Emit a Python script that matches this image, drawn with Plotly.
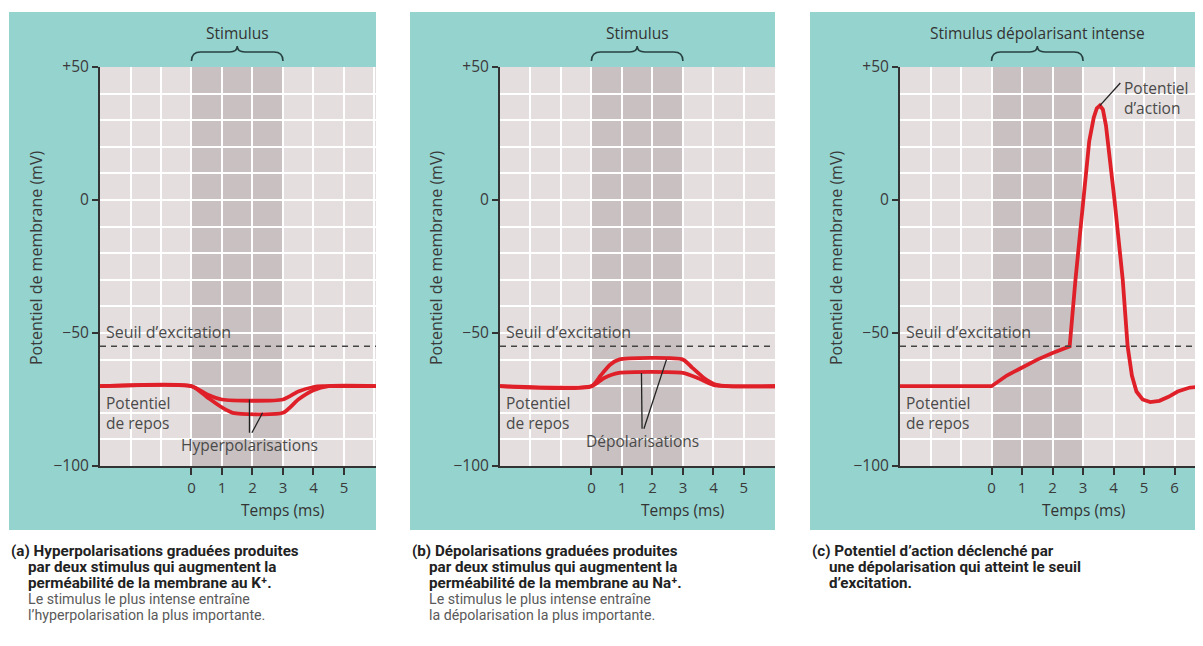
import plotly.graph_objects as go

# The page body has an 8 px margin; the figure is shifted by it.
OFF = 8
W, H = 1203 - OFF, 646 - OFF

# ---------------- data ----------------
# Panel (a): two graded hyperpolarisations
A_WEAK_T = [-3, 0, 0.5, 1.0, 3.0, 3.5, 4.0, 4.3, 6.2]
A_WEAK_V = [-70, -70, -73, -75, -75, -72, -70.3, -70, -70]
A_STRONG_T = [-3, 0, 0.5, 1.0, 1.35, 3.0, 3.5, 4.0, 4.5, 6.2]
A_STRONG_V = [-70, -70, -74, -78, -80, -80, -75, -71.5, -70, -70]

# Panel (b): two graded depolarisations
B_WEAK_T = [-3, 0, 0.4, 0.9, 3.0, 3.5, 4.0, 4.4, 6.2]
B_WEAK_V = [-70, -70, -67, -65, -65, -67, -69.5, -70, -70]
B_STRONG_T = [-3, 0, 0.3, 0.6, 0.9, 3.0, 3.3, 3.7, 4.1, 4.5, 6.2]
B_STRONG_V = [-70, -70, -66, -62, -60, -60, -63, -67, -69.5, -70, -70]

# Panel (c): action potential
C_T = [-3, 0, 0.5, 1.0, 1.5, 2.0, 2.56, 2.75, 3.0, 3.2, 3.35, 3.45, 3.55, 3.65,
       3.75, 3.9, 4.03, 4.3, 4.46, 4.6, 4.75, 4.95, 5.2, 5.5, 5.8, 6.1, 6.5, 7.0]
C_V = [-70, -70, -66, -63, -60, -57.5, -55, -30, 0, 22, 31, 34.5, 35.5, 34,
       28, 14, 0, -30, -55, -66, -72, -75, -76, -75.5, -74, -72, -70.5, -70]

REST = -70
THRESHOLD = -55
STIM_START, STIM_END = 0, 3
Y_TICKS = [-100, -50, 0, 50]
Y_TICKTEXT = ["\u2212100", "\u221250", "0", "+50"]
X_TICKS_AB = [0, 1, 2, 3, 4, 5]
X_TICKS_C = [0, 1, 2, 3, 4, 5, 6]

CAPTIONS = [
    ("(a)", ["Hyperpolarisations graduées produites",
             "par deux stimulus qui augmentent la",
             "perméabilité de la membrane au K\u207a."],
     ["Le stimulus le plus intense entraîne",
      "l’hyperpolarisation la plus importante."]),
    ("(b)", ["Dépolarisations graduées produites",
             "par deux stimulus qui augmentent la",
             "perméabilité de la membrane au Na\u207a."],
     ["Le stimulus le plus intense entraîne",
      "la dépolarisation la plus importante."]),
    ("(c)", ["Potentiel d’action déclenché par",
             "une dépolarisation qui atteint le seuil",
             "d’excitation."],
     []),
]

# ---------------- styles ----------------
RED = "#DF2029"
TEAL = "#95D3CF"
BG = "#E4DEDE"
STIM = "#C9C1C1"
AXIS = "#333333"
TXT = "#4a4a4a"
FONT = "Open Sans"
CAP_FONT = "Liberation Sans Narrow, Arial Narrow, Roboto, sans-serif"


def px(xp):
    return (xp - OFF) / W


def py(yp):
    return 1 - (yp - OFF) / H


panels = [
    dict(ax="", box=(9, 376), plot=(100, 376), xmax=6.05, xticks=X_TICKS_AB,
         header="Stimulus",
         series=[(A_WEAK_T, A_WEAK_V), (A_STRONG_T, A_STRONG_V)], shape="spline",
         label="Hyperpolarisations", label_xy=(1.9, -92),
         pointers=[((1.9, -75), (1.9, -87.5)), ((1.98, -87.5), (2.33, -80))]),
    dict(ax="2", box=(410, 775), plot=(500, 775), xmax=6.02, xticks=X_TICKS_AB,
         header="Stimulus",
         series=[(B_WEAK_T, B_WEAK_V), (B_STRONG_T, B_STRONG_V)], shape="spline",
         label="Dépolarisations", label_xy=(1.67, -90.5),
         pointers=[((1.64, -65), (1.66, -86)), ((1.72, -86), (2.46, -60))]),
    dict(ax="3", box=(810, 1203), plot=(900, 1203), xmax=6.93, xticks=X_TICKS_C,
         header="Stimulus dépolarisant intense",
         series=[(C_T, C_V)], shape="linear",
         label=None,
         pointers=[((3.55, 35.5), (4.22, 44))]),
]

fig = go.Figure()
shapes = []
annotations = []
layout = {}

y_dom = [py(466), py(67)]

for i, p in enumerate(panels):
    xa = "x" + p["ax"]
    ya = "y" + p["ax"]
    xkey = "xaxis" + p["ax"]
    ykey = "yaxis" + p["ax"]

    # teal panel box
    shapes.append(dict(type="rect", xref="paper", yref="paper",
                       x0=px(p["box"][0]), x1=min(1.0, px(p["box"][1])),
                       y0=py(530), y1=py(12), fillcolor=TEAL,
                       line=dict(width=0), layer="below"))
    # plot background and stimulus zone
    shapes.append(dict(type="rect", xref=xa, yref=ya, x0=-3, x1=p["xmax"] + 1,
                       y0=-100, y1=50, fillcolor=BG, line=dict(width=0),
                       layer="below"))
    shapes.append(dict(type="rect", xref=xa, yref=ya, x0=STIM_START, x1=STIM_END,
                       y0=-100, y1=50, fillcolor=STIM, line=dict(width=0),
                       layer="below"))
    # threshold line
    shapes.append(dict(type="line", xref=xa, yref=ya, x0=-3, x1=p["xmax"] + 1,
                       y0=THRESHOLD, y1=THRESHOLD,
                       line=dict(color="#444444", width=1.5, dash="6px,5px"),
                       layer="above"))
    # brace above the stimulus
    x0, x1 = STIM_START, STIM_END
    xm = (x0 + x1) / 2
    yb, ymid, ytip = py(61), py(52), py(46)
    path = (f"M {x0},{yb} Q {x0},{ymid} {x0 + 0.3},{ymid} "
            f"L {xm - 0.25},{ymid} Q {xm},{ymid} {xm},{ytip} "
            f"Q {xm},{ymid} {xm + 0.25},{ymid} L {x1 - 0.3},{ymid} "
            f"Q {x1},{ymid} {x1},{yb}")
    shapes.append(dict(type="path", xref=xa, yref="paper", path=path,
                       line=dict(color="#27403f", width=1.6), layer="above"))
    # pointers
    for (a, b) in p["pointers"]:
        shapes.append(dict(type="line", xref=xa, yref=ya, x0=a[0], y0=a[1],
                           x1=b[0], y1=b[1],
                           line=dict(color="#222222", width=1.3), layer="above"))

    # traces
    for t, v in p["series"]:
        fig.add_trace(go.Scatter(
            x=t, y=v, mode="lines", xaxis=xa, yaxis=ya, showlegend=False,
            hoverinfo="skip",
            line=dict(color=RED, width=3.8, shape=p["shape"], smoothing=0.6)))

    layout[xkey] = dict(
        domain=[px(p["plot"][0]), min(1.0, px(p["plot"][1]))], anchor=ya,
        range=[-3, p["xmax"]] if px(p["plot"][1]) <= 1 else
              [-3, -3 + (p["xmax"] + 3) * (W - (p["plot"][0] - OFF)) /
               (p["plot"][1] - p["plot"][0])],
        tickvals=p["xticks"],
        ticktext=[str(v) for v in p["xticks"]],
        showgrid=True, gridcolor="white", gridwidth=2,
        minor=dict(dtick=1, tick0=0, showgrid=True, gridcolor="white",
                   gridwidth=2, ticks=""),
        ticks="outside", ticklen=7, tickwidth=1.6, tickcolor=AXIS,
        showline=True, linecolor=AXIS, linewidth=2, zeroline=False,
        tickfont=dict(family=FONT, size=15, color="#3a3a3a"),
        fixedrange=True, layer="below traces", automargin=False)
    layout[ykey] = dict(
        domain=y_dom, anchor=xa, range=[-100, 50],
        tickvals=Y_TICKS, ticktext=Y_TICKTEXT,
        showgrid=True, gridcolor="white", gridwidth=2,
        minor=dict(dtick=10, tick0=0, showgrid=True, gridcolor="white",
                   gridwidth=2, ticks=""),
        ticks="outside", ticklen=6, tickwidth=1.6, tickcolor=AXIS,
        showline=True, linecolor=AXIS, linewidth=2, zeroline=False,
        tickfont=dict(family=FONT, size=15.5, color="#3a3a3a"),
        fixedrange=True, layer="below traces", automargin=False)

    # texts
    annotations.append(dict(xref=xa, yref="paper", x=xm, y=py(33),
                            text=p["header"], showarrow=False,
                            xanchor="center", yanchor="middle",
                            font=dict(family=FONT, size=15.5, color="#333333")))
    annotations.append(dict(xref=xa, yref="paper", x=3, y=py(510),
                            text="Temps (ms)", showarrow=False,
                            xanchor="center", yanchor="middle",
                            font=dict(family=FONT, size=15.5, color="#333333")))
    annotations.append(dict(xref="paper", yref="paper",
                            x=px(p["plot"][0] - 64), y=py(258),
                            text="Potentiel de membrane (mV)", textangle=-90,
                            showarrow=False, xanchor="center", yanchor="middle",
                            font=dict(family=FONT, size=16, color="#3a3a3a")))
    annotations.append(dict(xref=xa, yref=ya, x=-2.87, y=-49.5,
                            text="Seuil d’excitation", showarrow=False,
                            xanchor="left", yanchor="middle",
                            font=dict(family=FONT, size=16, color=TXT)))
    annotations.append(dict(xref=xa, yref=ya, x=-2.87, y=-71.5,
                            text="Potentiel<br>de repos", showarrow=False,
                            xanchor="left", yanchor="top", align="left",
                            font=dict(family=FONT, size=15.5, color=TXT)))
    if p["label"]:
        annotations.append(dict(xref=xa, yref=ya, x=p["label_xy"][0],
                                y=p["label_xy"][1], text=p["label"],
                                showarrow=False, xanchor="center",
                                yanchor="middle",
                                font=dict(family=FONT, size=15.5, color=TXT)))
    else:
        annotations.append(dict(xref=xa, yref=ya, x=4.27, y=38.5,
                                text="Potentiel<br>d’action", showarrow=False,
                                xanchor="left", yanchor="middle", align="left",
                                font=dict(family=FONT, size=15.5, color=TXT)))

    # caption, one annotation per line
    tag, bold_lines, plain_lines = CAPTIONS[i]
    x_base = p["box"][0]
    for k, line in enumerate(bold_lines + plain_lines):
        bold = k < len(bold_lines)
        txt = f"<b>{tag} {line}</b>" if k == 0 else (f"<b>{line}</b>" if bold else line)
        annotations.append(dict(
            xref="paper", yref="paper",
            x=px(x_base + (0 if k == 0 else 17)), y=py(551 + 16 * k),
            text=txt, showarrow=False, xanchor="left", yanchor="middle",
            font=dict(family=CAP_FONT, size=15.2 if bold else 14.2,
                      color="#222222" if bold else "#5a5a5a")))

fig.update_layout(
    width=W, height=H, autosize=False,
    margin=dict(l=0, r=0, t=0, b=0, pad=0, autoexpand=False),
    paper_bgcolor="white", plot_bgcolor=BG,
    shapes=shapes, annotations=annotations,
    showlegend=False,
    **layout,
)

fig.write_html("out.html")
